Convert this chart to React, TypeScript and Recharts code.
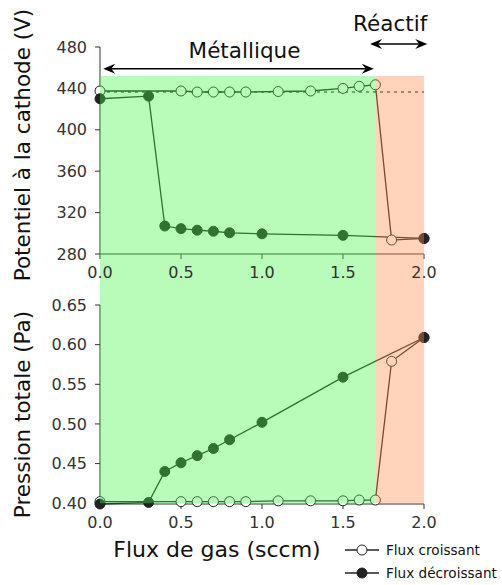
import { LineChart, Line, XAxis, YAxis, ReferenceArea, ReferenceLine } from "recharts";

// gas flow (sccm) for each branch of the hysteresis
const fluxCroissant = [0, 0.5, 0.6, 0.7, 0.8, 0.9, 1.1, 1.3, 1.5, 1.6, 1.7, 1.8, 2.0];
const potentielCroissant = [437.5, 437.5, 436.5, 436.5, 436.5, 436.5, 437, 437.5, 440, 442, 443.5, 293.5, 295];
const pressionCroissant = [0.402, 0.402, 0.402, 0.402, 0.402, 0.402, 0.403, 0.403, 0.403, 0.404, 0.404, 0.579, 0.609];

const fluxDecroissant = [0, 0.3, 0.4, 0.5, 0.6, 0.7, 0.8, 1.0, 1.5, 2.0];
const potentielDecroissant = [430, 432.5, 307, 304.5, 303, 302, 300.5, 299.5, 298, 295];
const pressionDecroissant = [0.399, 0.401, 0.44, 0.451, 0.46, 0.469, 0.48, 0.502, 0.559, 0.609];

const xTicks = [0, 0.5, 1.0, 1.5, 2.0];
const potentielTicks = [280, 300, 320, 340, 360, 380, 400, 420, 440, 460, 480];
const pressionTicks = [0.4, 0.45, 0.5, 0.55, 0.6, 0.65];

const tensionRef = 436.5;
const limiteMetal = 1.7;

const upTop = fluxCroissant.map((x, i) => ({ x, y: potentielCroissant[i] }));
const downTop = fluxDecroissant.map((x, i) => ({ x, y: potentielDecroissant[i] }));
const upBottom = fluxCroissant.map((x, i) => ({ x, y: pressionCroissant[i] }));
const downBottom = fluxDecroissant.map((x, i) => ({ x, y: pressionDecroissant[i] }));

const FONT = "'DejaVu Sans', Verdana, sans-serif";
const INK = "#222";
const TICK = { fontSize: 16, fill: "#333", fontFamily: FONT };
const GREEN = "rgb(70,245,70)";
const ORANGE = "rgb(255,142,76)";
const SHADE = 0.38;

function YTitle(props: any) {
  const vb = props.viewBox || { x: 0, y: 0, width: 100, height: 200 };
  const cx = vb.x + 22;
  const cy = vb.y + vb.height / 2 + props.shift;
  return (
    <text x={cx} y={cy} transform={`rotate(-90, ${cx}, ${cy})`} textAnchor="middle"
      dominantBaseline="central" fontSize={21.5} fontFamily={FONT} fill="#111">
      {props.value}
    </text>
  );
}

function XTitle(props: any) {
  const vb = props.viewBox || { x: 100, y: 214, width: 324, height: 30 };
  const cx = vb.x + vb.width / 2 - 45;
  const cy = vb.y + 45;
  return (
    <text x={cx} y={cy} textAnchor="middle" dominantBaseline="central"
      fontSize={22} fontFamily={FONT} fill="#111">
      {props.value}
    </text>
  );
}

function PotTick(props: any) {
  const { x, y, payload } = props;
  if (payload.value % 40 !== 0) return null;
  return (
    <text x={x} y={y} textAnchor="end" dominantBaseline="central" {...TICK}>
      {payload.value}
    </text>
  );
}

// double-headed arrow with its caption
function arrowShape(caption: string, align: "middle" | "end", dx: number, rise: number) {
  return (p: any) => {
    const { x1, y1, x2 } = p;
    const y = y1;
    const tx = align === "middle" ? (x1 + x2) / 2 + dx : x2 + dx;
    return (
      <g>
        <line x1={x1 + 4} y1={y} x2={x2 - 4} y2={y} stroke="#000" strokeWidth={1.5} />
        <path d={`M${x2},${y} L${x2 - 12},${y - 5} L${x2 - 8},${y} L${x2 - 12},${y + 5} Z`} fill="#000" />
        <path d={`M${x1},${y} L${x1 + 12},${y - 5} L${x1 + 8},${y} L${x1 + 12},${y + 5} Z`} fill="#000" />
        <text x={tx} y={y - rise} textAnchor={align} dominantBaseline="central"
          fontSize={21.5} fontFamily={FONT} fill="#111">
          {caption}
        </text>
      </g>
    );
  };
}

function LegendRow({ filled, label }: { filled: boolean; label: string }) {
  return (
    <div style={{ display: "flex", alignItems: "center", height: 23 }}>
      <svg width={34} height={14}>
        <line x1={0} y1={7} x2={34} y2={7} stroke={INK} strokeWidth={1.3} />
        <circle cx={17} cy={7} r={5} fill={filled ? INK : "#fff"} stroke={INK} strokeWidth={1} />
      </svg>
      <span style={{ marginLeft: 7, fontSize: 13.6, fontFamily: FONT, color: "#111" }}>{label}</span>
    </div>
  );
}

export default function App() {
  return (
    <div style={{ position: "absolute", left: 0, top: 0, width: 502, height: 585, background: "#fff" }}>
      <LineChart width={502} height={290} margin={{ top: 47, right: 78, left: 0, bottom: 0 }}>
        <XAxis type="number" dataKey="x" domain={[0, 2]} ticks={xTicks} tickFormatter={(v) => v.toFixed(1)}
          height={36} tickSize={5} tickMargin={8} tick={TICK} stroke="#333" allowDuplicatedCategory={false} />
        <YAxis type="number" dataKey="y" domain={[280, 480]} ticks={potentielTicks} width={100}
          tickSize={5} tickMargin={8} tick={<PotTick />} stroke="#333"
          label={<YTitle value="Potentiel à la cathode (V)" shift={-5.5} />} />
        <ReferenceLine y={tensionRef} stroke="#000" strokeDasharray="3 4" strokeWidth={1.2} />
        <Line data={upTop} dataKey="y" stroke={INK} strokeWidth={1.3} isAnimationActive={false}
          dot={{ r: 5, fill: "#fff", stroke: INK, strokeWidth: 1 }} />
        <Line data={downTop} dataKey="y" stroke={INK} strokeWidth={1.3} isAnimationActive={false}
          dot={{ r: 5, fill: INK, stroke: INK, strokeWidth: 1 }} />
        <ReferenceArea x1={0} x2={limiteMetal} y1={243} y2={452} ifOverflow="visible"
          fill={GREEN} fillOpacity={SHADE} stroke="none" zIndex={1500} />
        <ReferenceArea x1={limiteMetal} x2={2} y1={243} y2={452} ifOverflow="visible"
          fill={ORANGE} fillOpacity={SHADE} stroke="none" zIndex={1500} />
        <ReferenceLine segment={[{ x: 0.02, y: 459 }, { x: 1.69, y: 459 }]} ifOverflow="visible"
          shape={arrowShape("Métallique", "middle", 6, 18)} />
        <ReferenceLine segment={[{ x: 1.667, y: 483 }, { x: 2.02, y: 483 }]} ifOverflow="visible"
          shape={arrowShape("Réactif", "end", 0, 20)} />
      </LineChart>
      <LineChart width={502} height={295} margin={{ top: 15, right: 78, left: 0, bottom: 51 }}>
        <XAxis type="number" dataKey="x" domain={[0, 2]} ticks={xTicks} tickFormatter={(v) => v.toFixed(1)}
          height={30} tickSize={5} tickMargin={8} tick={TICK} stroke="#333" allowDuplicatedCategory={false}
          label={<XTitle value="Flux de gas (sccm)" />} />
        <YAxis type="number" dataKey="y" domain={[0.4, 0.65]} ticks={pressionTicks} width={100}
          tickSize={5} tickMargin={8} tick={TICK} stroke="#333" tickFormatter={(v) => v.toFixed(2)}
          label={<YTitle value="Pression totale (Pa)" shift={10} />} />
        <Line data={upBottom} dataKey="y" stroke={INK} strokeWidth={1.3} isAnimationActive={false}
          dot={{ r: 5, fill: "#fff", stroke: INK, strokeWidth: 1 }} />
        <Line data={downBottom} dataKey="y" stroke={INK} strokeWidth={1.3} isAnimationActive={false}
          dot={{ r: 5, fill: INK, stroke: INK, strokeWidth: 1 }} />
        <ReferenceArea x1={0} x2={limiteMetal} y1={0.4} y2={0.67} ifOverflow="visible"
          fill={GREEN} fillOpacity={SHADE} stroke="none" zIndex={1500} />
        <ReferenceArea x1={limiteMetal} x2={2} y1={0.4} y2={0.67} ifOverflow="visible"
          fill={ORANGE} fillOpacity={SHADE} stroke="none" zIndex={1500} />
      </LineChart>
      <div style={{ position: "absolute", left: 345, top: 538 }}>
        <LegendRow filled={false} label="Flux croissant" />
        <LegendRow filled={true} label="Flux décroissant" />
      </div>
    </div>
  );
}
